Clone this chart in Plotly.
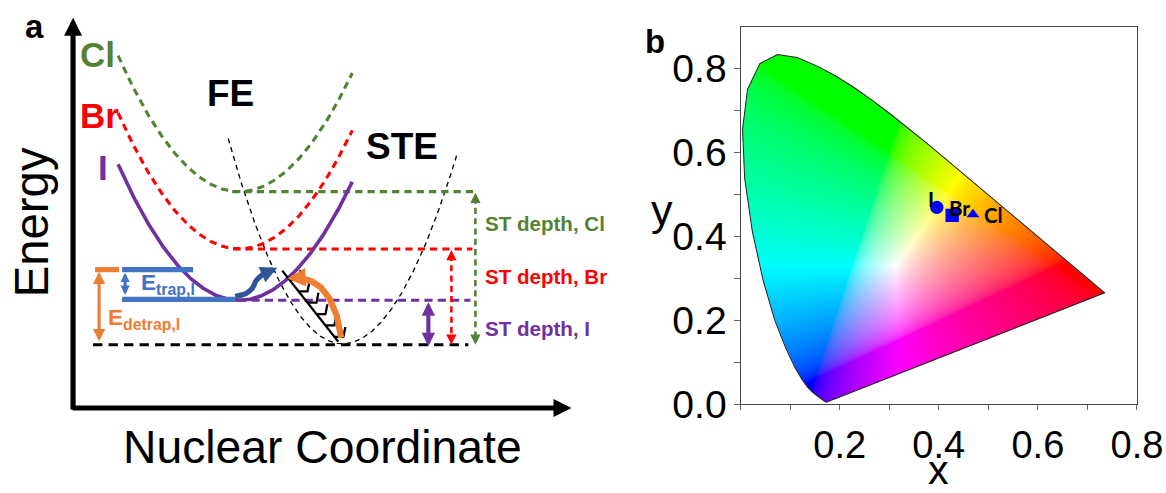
import base64, struct, zlib
import numpy as np
import plotly.graph_objects as go

# The capture shrinks the page by about 0.977 x 0.968, so the figure is enlarged to make up for it.
REF_W, REF_H = 1166, 493
SX, SY = 0.977, 0.968
W, H = round(REF_W / SX), round(REF_H / SY)
F = 2 / (SX + SY)          # size factor for fonts, line widths and markers
FONT = "Liberation Sans"

def f(v):
    return v * F

def dsh(a, b):
    return "%.1fpx,%.1fpx" % (a * F, b * F)

def pxp(x):   # reference pixel x -> paper fraction
    return x / REF_W

def pyp(y):   # reference pixel y -> paper fraction
    return 1 - y / REF_H

# ---------------- Panel a : configuration-coordinate schematic ----------------
halides = ["Cl", "Br", "I"]
halide_colors = ["#548235", "#ff0000", "#7030a0"]
fe_min_energy = [219, 161, 109]          # free-exciton curve minima
fe_center = 239
fe_curvature = 0.0094
fe_x_range = [118, 352]
fe_width = [3, 3, 3.5]
halide_label_x = [97, 99, 103]
halide_label_E = [358, 296, 243]

ste_center = 342
ste_min_energy = 65
ste_curv_left, ste_curv_right = 0.0160, 0.0146
ste_x_range = [228, 457]

level_x_start = [232, 233, 238]
level_x_end = [477, 472, 470]
baseline_energy = 64
baseline_x = [93, 468]
depth_arrow_x = [475, 451, 428]
depth_arrow_bottom = [64, 64, 61]
depth_labels = ["ST depth, Cl", "ST depth, Br", "ST depth, I"]
depth_label_x = 483
depth_label_E = [187, 133, 80]

trap_top_E, trap_bottom_E = 140, 110
trap_top_x, trap_bottom_x = [122, 193], [122, 235]
trap_arrow_x = 125
detrap_line_x = [95, 119]
detrap_arrow_x = 99
detrap_arrow_E = [138, 66]

squiggle_x = [235, 246, 252, 256, 261, 266]
squiggle_E = [113, 116, 121, 129, 134, 137]
squiggle_tip = [277, 142]

arc_p0, arc_p1, arc_p2 = (341, 71), (332, 138), (287, 131)
ladder_start, ladder_end = (282, 139), (338, 67)
ladder_ticks = [0.13, 0.29, 0.45, 0.61, 0.77, 0.93]

# ---------------- Panel b : CIE 1931 chromaticity ----------------
locus_x = [0.1741, 0.1740, 0.1738, 0.1736, 0.1733, 0.1730, 0.1726, 0.1721, 0.1714, 0.1703,
           0.1689, 0.1669, 0.1644, 0.1611, 0.1566, 0.1510, 0.1440, 0.1355, 0.1241, 0.1096,
           0.0913, 0.0687, 0.0454, 0.0235, 0.0082, 0.0039, 0.0139, 0.0389, 0.0743, 0.1142,
           0.1547, 0.1929, 0.2296, 0.2658, 0.3016, 0.3373, 0.3731, 0.4087, 0.4441, 0.4788,
           0.5125, 0.5448, 0.5752, 0.6029, 0.6270, 0.6482, 0.6658, 0.6801, 0.6915, 0.7006,
           0.7079, 0.7140, 0.7190, 0.7230, 0.7260, 0.7283, 0.7300, 0.7311, 0.7320, 0.7334, 0.7347]
locus_y = [0.0050, 0.0050, 0.0049, 0.0049, 0.0048, 0.0048, 0.0048, 0.0048, 0.0051, 0.0058,
           0.0069, 0.0086, 0.0109, 0.0138, 0.0177, 0.0227, 0.0297, 0.0399, 0.0578, 0.0868,
           0.1327, 0.2007, 0.2950, 0.4127, 0.5384, 0.6548, 0.7502, 0.8120, 0.8338, 0.8262,
           0.8059, 0.7816, 0.7543, 0.7243, 0.6923, 0.6589, 0.6245, 0.5896, 0.5547, 0.5202,
           0.4866, 0.4544, 0.4242, 0.3965, 0.3725, 0.3514, 0.3340, 0.3197, 0.3083, 0.2993,
           0.2920, 0.2859, 0.2809, 0.2770, 0.2740, 0.2717, 0.2700, 0.2689, 0.2680, 0.2666, 0.2653]
sample_names = ["I", "Br", "Cl"]
sample_x = [0.396, 0.427, 0.469]
sample_y = [0.469, 0.450, 0.452]
sample_symbols = ["circle", "square", "triangle-up"]
sample_sizes = [13, 13, 11]
sample_label_dx = [-0.012, 0.014, 0.042]
sample_label_dy = [0.019, 0.018, 0.0]

x_tick_vals = [round(0.1 * i, 1) for i in range(9)]
x_tick_text = ["", "", "0.2", "", "0.4", "", "0.6", "", "0.8"]
y_tick_vals = [round(0.1 * i, 1) for i in range(9)]
y_tick_text = ["0.0", "", "0.2", "", "0.4", "", "0.6", "", "0.8"]

fig = go.Figure()
ann = []

def text(x, y, s, size, color="black", bold=False, xanchor="center", angle=0, family=FONT,
         xref="x", yref="y", yanchor="middle"):
    ann.append(dict(x=x, y=y, xref=xref, yref=yref, text=("<b>%s</b>" % s) if bold else s,
                    showarrow=False, xanchor=xanchor, yanchor=yanchor, textangle=angle,
                    font=dict(family=family, size=f(size), color=color)))

def arrow(tip, tail, color, width, size, side="end"):
    ann.append(dict(x=tip[0], y=tip[1], ax=tail[0], ay=tail[1], xref="x", yref="y",
                    axref="x", ayref="y", showarrow=True, text="", arrowhead=2, startarrowhead=2,
                    arrowside=side, arrowsize=size, startarrowsize=size,
                    arrowwidth=f(width), arrowcolor=color))

def line(xs, ys, color, width, dash="solid", shape="linear", xa="x", ya="y"):
    fig.add_trace(go.Scatter(x=xs, y=ys, mode="lines", xaxis=xa, yaxis=ya, hoverinfo="skip",
                             line=dict(color=color, width=f(width), dash=dash, shape=shape),
                             showlegend=False))

# axes arrows
arrow((73, 395), (73, -3), "black", 5, 0.7)
arrow((571, 0), (71, 0), "black", 5, 0.7)

# STE curve
xs = np.linspace(ste_x_range[0], ste_x_range[1], 200)
k = np.where(xs < ste_center, ste_curv_left, ste_curv_right)
line(xs, ste_min_energy + k * (xs - ste_center) ** 2, "black", 1.3, dsh(5, 4))

# horizontal levels and depth arrows
for i in range(3):
    c = halide_colors[i]
    d = dsh(7, 5) if i < 2 else dsh(8, 5)
    line([level_x_start[i], level_x_end[i]], [fe_min_energy[i]] * 2, c, 3, d)
line(baseline_x, [baseline_energy] * 2, "black", 3, dsh(9, 6))

for i in range(3):
    c = halide_colors[i]
    top, bot, xa = fe_min_energy[i], depth_arrow_bottom[i], depth_arrow_x[i]
    if i < 2:
        line([xa, xa], [top - 6, bot + 6], c, 2.5, dsh(6, 4))
        arrow((xa, top - 1), (xa, top - 9), c, 2.5, 0.8)
        arrow((xa, bot), (xa, bot + 8), c, 2.5, 0.8)
    else:
        arrow((xa, top - 2), (xa, bot), c, 4, 0.65, side="end+start")
    text(depth_label_x, depth_label_E[i], depth_labels[i], 20, c, True, "left")

# FE curves
for i in range(3):
    xs = np.linspace(fe_x_range[0], fe_x_range[1], 200)
    line(xs, fe_min_energy[i] + fe_curvature * (xs - fe_center) ** 2,
         halide_colors[i], fe_width[i], dsh(7, 5) if i < 2 else "solid")
    text(halide_label_x[i], halide_label_E[i], halides[i], 34, halide_colors[i], True)

# trap / detrap energies
blue, dblue, orange = "#4472c4", "#2f5597", "#ed7d31"
line(trap_top_x, [trap_top_E] * 2, blue, 5)
line(trap_bottom_x, [trap_bottom_E] * 2, blue, 5)
arrow((trap_arrow_x, trap_top_E - 3), (trap_arrow_x, trap_bottom_E + 3), blue, 3, 0.6, "end+start")
line(detrap_line_x, [trap_top_E] * 2, orange, 5)
arrow((detrap_arrow_x, detrap_arrow_E[0]), (detrap_arrow_x, detrap_arrow_E[1]), orange, 3, 0.8, "end+start")
text(139, 126, "<b>E<sub>trap,I</sub></b>", 22, blue, False, "left")
text(106, 90, "<b>E<sub>detrap,I</sub></b>", 22, orange, False, "left")

# squiggly trapping arrow
line(squiggle_x, squiggle_E, dblue, 5, shape="spline")
arrow(tuple(squiggle_tip), (squiggle_x[-1], squiggle_E[-1]), dblue, 5, 0.65)

# ladder of vibrational levels
lx, ly = [ladder_start[0], ladder_end[0], None], [ladder_start[1], ladder_end[1], None]
for t in ladder_ticks:
    px = ladder_start[0] + t * (ladder_end[0] - ladder_start[0])
    py = ladder_start[1] + t * (ladder_end[1] - ladder_start[1])
    lx += [px, px + 9, px + 11, None]
    ly += [py, py, py + 10, None]
line(lx, ly, "black", 2.2)

# orange de-trapping arc
t = np.linspace(0, 0.9, 60)
ax_ = (1 - t) ** 2 * arc_p0[0] + 2 * (1 - t) * t * arc_p1[0] + t ** 2 * arc_p2[0]
ay_ = (1 - t) ** 2 * arc_p0[1] + 2 * (1 - t) * t * arc_p1[1] + t ** 2 * arc_p2[1]
line(ax_, ay_, orange, 6)
arrow(arc_p2, (ax_[-1], ay_[-1]), orange, 6, 0.6)

# labels panel a
text(34, 386, "a", 32, bold=True)
text(230, 319, "FE", 36, bold=True)
text(402, 265, "STE", 36, bold=True)
text(31, 188, "Energy", 46, angle=-90)
text(322, -39, "Nuclear Coordinate", 45)

# ---------------- Panel b ----------------
nx, ny = 400, 450
gx = (np.arange(nx) + 0.5) / nx * 0.8
gy = 0.9 - (np.arange(ny) + 0.5) / ny * 0.9
X, Y = np.meshgrid(gx, gy)
px_ = np.array(locus_x + [locus_x[0]])
py_ = np.array(locus_y + [locus_y[0]])
inside = np.zeros(X.shape, bool)
for j in range(len(px_) - 1):
    x1, y1, x2, y2 = px_[j], py_[j], px_[j + 1], py_[j + 1]
    if y1 == y2:
        continue
    cond = ((y1 > Y) != (y2 > Y)) & (X < (x2 - x1) * (Y - y1) / (y2 - y1) + x1)
    inside ^= cond
Yc = np.maximum(Y, 1e-4)
XYZ = np.stack([X / Yc, np.ones_like(X), (1 - X - Y) / Yc])
M = np.array([[3.2406, -1.5372, -0.4986], [-0.9689, 1.8758, 0.0415], [0.0557, -0.2040, 1.0570]])
rgb = np.einsum("ij,jhw->ihw", M, XYZ)
rgb = np.clip(rgb, 0, None)
rgb = rgb / np.maximum(rgb.max(axis=0, keepdims=True), 1e-9)
rgb = np.where(rgb <= 0.0031308, 12.92 * rgb, 1.055 * rgb ** (1 / 2.4) - 0.055)
img = np.zeros((ny, nx, 4), np.uint8)
img[..., :3] = (np.clip(rgb, 0, 1) * 255).transpose(1, 2, 0).astype(np.uint8)
img[..., 3] = np.where(inside, 255, 0)

def png_uri(a):
    h, w, _ = a.shape
    raw = b"".join(b"\x00" + a[r].tobytes() for r in range(h))
    def chunk(tag, data):
        return struct.pack(">I", len(data)) + tag + data + struct.pack(">I", zlib.crc32(tag + data) & 0xffffffff)
    png = (b"\x89PNG\r\n\x1a\n" + chunk(b"IHDR", struct.pack(">IIBBBBB", w, h, 8, 6, 0, 0, 0))
           + chunk(b"IDAT", zlib.compress(raw, 9)) + chunk(b"IEND", b""))
    return "data:image/png;base64," + base64.b64encode(png).decode()

line(locus_x + [locus_x[0]], locus_y + [locus_y[0]], "#222", 1, xa="x2", ya="y2")
for i in range(3):
    fig.add_trace(go.Scatter(x=[sample_x[i]], y=[sample_y[i]], mode="markers", xaxis="x2", yaxis="y2",
                             marker=dict(symbol=sample_symbols[i], size=f(sample_sizes[i]), color="#0000ff"),
                             showlegend=False, hoverinfo="skip"))
    text(sample_x[i] + sample_label_dx[i], sample_y[i] + sample_label_dy[i], sample_names[i], 20,
         "black", True, "center", family="Lato", xref="x2", yref="y2")

text(pxp(654), pyp(42), "b", 32, bold=True, xref="paper", yref="paper")
text(pxp(938), pyp(476), "x", 40, xref="paper", yref="paper")
text(pxp(661), pyp(213), "y", 42, xref="paper", yref="paper")

fig.update_layout(
    width=W, height=H, margin=dict(l=0, r=0, t=0, b=0),
    paper_bgcolor="white", plot_bgcolor="rgba(0,0,0,0)",
    annotations=ann,
    images=[dict(source=png_uri(img), xref="x2", yref="y2", x=0, y=0.9, sizex=0.8, sizey=0.9,
                 sizing="stretch", xanchor="left", yanchor="top", layer="below")],
    xaxis=dict(domain=[0, pxp(640)], range=[0, 640], visible=False, fixedrange=True),
    yaxis=dict(domain=[0, 1], range=[413 - REF_H, 413], visible=False, fixedrange=True),
    xaxis2=dict(domain=[pxp(740), pxp(1136)], range=[0, 0.8], anchor="y2", tickmode="array",
                tickvals=x_tick_vals, ticktext=x_tick_text, ticks="outside", ticklen=f(5),
                tickcolor="#666", showline=True, linecolor="#444", linewidth=1, mirror=True,
                showgrid=False, zeroline=False, ticklabelstandoff=2,
                tickfont=dict(family=FONT, size=f(37), color="black")),
    yaxis2=dict(domain=[pyp(409), pyp(27)], range=[0, 0.9], anchor="x2", tickmode="array",
                tickvals=y_tick_vals, ticktext=y_tick_text, ticks="outside", ticklen=f(5),
                tickcolor="#666", showline=True, linecolor="#444", linewidth=1, mirror=True,
                showgrid=False, zeroline=False,
                tickfont=dict(family=FONT, size=f(38), color="black")),
)
fig.write_html("out.html")
